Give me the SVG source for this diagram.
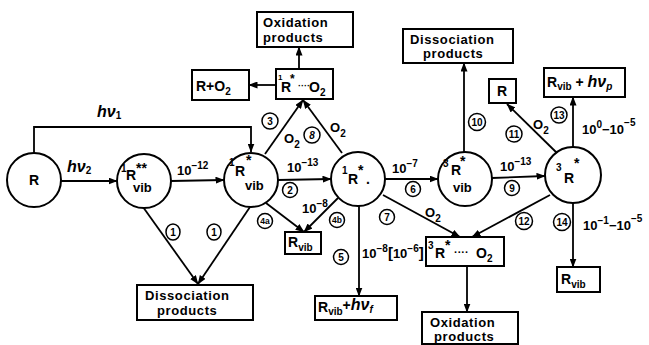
<svg xmlns="http://www.w3.org/2000/svg" width="649" height="345" viewBox="0 0 649 345">
<style>
.n{fill:#fff;stroke:#000;stroke-width:2}
.c line,.c path,.c polyline{stroke:#000;stroke-width:1.8;fill:none}
.lc{fill:#fff;stroke:#000;stroke-width:1.5}
text{font-family:"Liberation Sans",Arial,sans-serif;font-weight:bold;fill:#000}
.t{font-size:14px}
.s{font-size:10px}
.b{font-size:13px;letter-spacing:0.6px}
.l{font-size:13px}
.sm{font-size:10px}
.hv{font-style:italic;font-size:16px}
</style>
<defs>
<marker id="a" markerWidth="9" markerHeight="7" refX="8.5" refY="3.5" orient="auto" markerUnits="userSpaceOnUse"><path d="M0,0 L9,3.5 L0,7 z" fill="#000"/></marker>
</defs>

<g class="c" id="connectors">
<polyline points="34,153 34,127 251,127 251,152" marker-end="url(#a)"/>
<line x1="61" y1="181" x2="117" y2="181" marker-end="url(#a)"/>
<line x1="171" y1="181" x2="224" y2="180" marker-end="url(#a)"/>
<line x1="278" y1="180" x2="331" y2="179" marker-end="url(#a)"/>
<line x1="385" y1="179" x2="438" y2="179" marker-end="url(#a)"/>
<line x1="492" y1="178" x2="545" y2="176" marker-end="url(#a)"/>
<line x1="265" y1="154" x2="303" y2="100" marker-end="url(#a)"/>
<line x1="342" y1="153" x2="303" y2="100" marker-end="url(#a)"/>
<line x1="299" y1="69" x2="299" y2="47" marker-end="url(#a)"/>
<line x1="276" y1="85" x2="249" y2="85" marker-end="url(#a)"/>
<line x1="143" y1="207" x2="198" y2="284" marker-end="url(#a)"/>
<line x1="250" y1="207" x2="198" y2="284" marker-end="url(#a)"/>
<line x1="266" y1="203" x2="304" y2="232" marker-end="url(#a)"/>
<line x1="338" y1="198" x2="304" y2="232" marker-end="url(#a)"/>
<line x1="359" y1="206" x2="359" y2="296" marker-end="url(#a)"/>
<line x1="383" y1="195" x2="460" y2="237" marker-end="url(#a)"/>
<line x1="550" y1="195" x2="472" y2="237" marker-end="url(#a)"/>
<line x1="467" y1="266" x2="467" y2="312" marker-end="url(#a)"/>
<line x1="464" y1="152" x2="464" y2="63" marker-end="url(#a)"/>
<line x1="557" y1="153" x2="507" y2="104" marker-end="url(#a)"/>
<line x1="573" y1="147" x2="573" y2="97" marker-end="url(#a)"/>
<line x1="573" y1="203" x2="573" y2="267" marker-end="url(#a)"/>
</g>

<g id="labels">
<text class="hv" x="97" y="117">hν<tspan class="s" dy="2" font-style="normal">1</tspan></text>
<text class="hv" x="67" y="172">hν<tspan class="s" dy="2" font-style="normal">2</tspan></text>
<text class="l" x="177" y="175">10<tspan class="sm" dy="-6">−12</tspan></text>
<text class="l" x="287" y="172">10<tspan class="sm" dy="-6">−13</tspan></text>
<text class="l" x="392" y="173">10<tspan class="sm" dy="-6">−7</tspan></text>
<text class="l" x="500" y="171">10<tspan class="sm" dy="-6">−13</tspan></text>
<text class="l" x="302" y="213">10<tspan class="sm" dy="-6">−8</tspan></text>
<text class="l" x="362" y="258">10<tspan class="sm" dy="-6">−8</tspan><tspan dy="6" font-size="15">[</tspan>10<tspan class="sm" dy="-6">−6</tspan><tspan dy="6" font-size="15">]</tspan></text>
<text class="l" x="582" y="134">10<tspan class="sm" dy="-6">0</tspan><tspan dy="6">−10</tspan><tspan class="sm" dy="-8">−5</tspan></text>
<text class="l" x="583" y="230">10<tspan class="sm" dy="-6">−1</tspan><tspan dy="6">−10</tspan><tspan class="sm" dy="-8">−5</tspan></text>
<text class="l" x="284" y="143">O<tspan class="sm" dy="5">2</tspan></text>
<text class="l" x="330" y="132">O<tspan class="sm" dy="5">2</tspan></text>
<text class="l" x="425" y="217">O<tspan class="sm" dy="5">2</tspan></text>
<text class="l" x="533" y="129">O<tspan class="sm" dy="5">2</tspan></text>
<g font-size="10">
<circle class="lc" cx="270" cy="121" r="8"/><text x="270" y="125" text-anchor="middle" class="sm">3</text>
<circle class="lc" cx="312" cy="135" r="8"/><text x="312" y="139" text-anchor="middle" class="sm" font-style="italic">8</text>
<circle class="lc" cx="290" cy="190" r="7.5"/><text x="290" y="194" text-anchor="middle" class="sm">2</text>
<circle class="lc" cx="413" cy="189" r="7.5"/><text x="413" y="193" text-anchor="middle" class="sm">6</text>
<circle class="lc" cx="512" cy="188" r="7.5"/><text x="512" y="192" text-anchor="middle" class="sm">9</text>
<ellipse class="lc" cx="173" cy="232" rx="7" ry="8"/><text x="173" y="236" text-anchor="middle" class="sm">1</text>
<ellipse class="lc" cx="214" cy="232" rx="7" ry="8"/><text x="214" y="236" text-anchor="middle" class="sm">1</text>
<circle class="lc" cx="265" cy="221" r="7.5"/><text x="265" y="224" text-anchor="middle" font-size="8.5">4a</text>
<circle class="lc" cx="337" cy="220" r="7.5"/><text x="337" y="223" text-anchor="middle" font-size="8.5">4b</text>
<circle class="lc" cx="341" cy="257" r="7.5"/><text x="341" y="261" text-anchor="middle" class="sm">5</text>
<circle class="lc" cx="387" cy="217" r="7.5"/><text x="387" y="221" text-anchor="middle" class="sm">7</text>
<circle class="lc" cx="524" cy="221" r="8.5"/><text x="524" y="225" text-anchor="middle" class="sm">12</text>
<circle class="lc" cx="477" cy="122" r="8.5"/><text x="477" y="126" text-anchor="middle" class="sm">10</text>
<circle class="lc" cx="514" cy="134" r="8"/><text x="514" y="138" text-anchor="middle" class="sm">11</text>
<circle class="lc" cx="559" cy="115" r="8"/><text x="559" y="119" text-anchor="middle" class="sm">13</text>
<circle class="lc" cx="562" cy="222" r="8.5"/><text x="562" y="226" text-anchor="middle" class="sm">14</text>
</g>
</g>

<g id="node-R"><circle class="n" cx="34" cy="180" r="27"/><text class="t" x="34" y="185" text-anchor="middle">R</text></g>
<g id="node-1Rvibss"><circle class="n" cx="144" cy="181" r="27"/>
<text class="s" x="121" y="172">1<tspan class="t" x="126" y="180">R</tspan><tspan class="t" x="136" y="173">**</tspan><tspan class="l" x="133" y="192">vib</tspan></text></g>
<g id="node-1Rvibs"><circle class="n" cx="251" cy="180" r="27"/>
<text class="s" x="229" y="166">1<tspan class="t" x="235" y="176">R</tspan><tspan class="t" x="246" y="165">*</tspan><tspan class="l" x="245" y="190">vib</tspan></text></g>
<g id="node-1Rs"><circle class="n" cx="358" cy="179" r="27"/>
<text class="s" x="342" y="174">1<tspan class="t" x="348" y="184">R</tspan><tspan class="t" x="358" y="175">*</tspan><tspan class="t" x="366" y="184">.</tspan></text></g>
<g id="node-3Rvib"><circle class="n" cx="465" cy="179" r="27"/>
<text class="s" x="443" y="167">3<tspan class="t" x="451" y="175">R</tspan><tspan class="t" x="460" y="166">*</tspan><tspan class="l" x="453" y="192">vib</tspan></text></g>
<g id="node-3Rs"><circle class="n" cx="573" cy="175" r="28"/>
<text class="s" x="556" y="171">3<tspan class="t" x="564" y="183">R</tspan><tspan class="t" x="574" y="168">*</tspan></text></g>

<g id="box-ox-top"><rect class="n" x="257" y="12" width="96" height="35"/>
<text class="b" x="263" y="27">Oxidation</text><text class="b" x="263" y="42">products</text></g>
<g id="box-RO2"><rect class="n" x="192" y="70" width="57" height="30"/>
<text class="t" x="196" y="91">R+O<tspan class="s" dy="4">2</tspan></text></g>
<g id="box-1RO2"><rect class="n" x="276" y="69" width="57" height="30"/>
<text font-size="8" x="278" y="80">1<tspan class="t" x="281" y="92">R</tspan><tspan font-size="12" x="290" y="83">*</tspan><tspan font-size="9" x="298" y="89">····</tspan><tspan class="t" x="309" y="92">O</tspan><tspan class="s" dy="4">2</tspan></text></g>
<g id="box-dis-top"><rect class="n" x="403" y="29" width="110" height="34"/>
<text class="b" x="410" y="44">Dissociation</text><text class="b" x="423" y="58">products</text></g>
<g id="box-R"><rect class="n" x="489" y="79" width="27" height="24"/><text class="t" x="497" y="96">R</text></g>
<g id="box-Rvib-hvp"><rect class="n" x="544" y="68" width="81" height="29"/>
<text class="t" x="547" y="87">R<tspan class="s" dy="3">vib</tspan><tspan dy="-3"> + </tspan><tspan class="hv">hν</tspan><tspan class="s" dy="3" font-style="italic">p</tspan></text></g>
<g id="box-dis-bot"><rect class="n" x="137" y="285" width="116" height="35"/>
<text class="b" x="145" y="300" letter-spacing="1.4">Dissociation</text><text class="b" x="157" y="315" letter-spacing="1.4">products</text></g>
<g id="box-Rvib-mid"><rect class="n" x="285" y="232" width="36" height="22"/>
<text class="t" x="288" y="247">R<tspan class="s" dy="4">vib</tspan></text></g>
<g id="box-Rvib-hvf"><rect class="n" x="315" y="296" width="82" height="24"/>
<text class="t" x="318" y="312">R<tspan class="s" dy="3">vib</tspan><tspan dy="-5">+</tspan><tspan class="hv">hν</tspan><tspan class="s" dy="3" font-style="italic">f</tspan></text></g>
<g id="box-3RO2"><rect class="n" x="426" y="237" width="78" height="29"/>
<text class="s" x="428" y="249">3<tspan class="t" x="435" y="258">R</tspan><tspan class="t" x="445" y="250">*</tspan><tspan font-size="11" x="454" y="256">····</tspan><tspan class="t" x="476" y="258">O</tspan><tspan class="s" dy="4">2</tspan></text></g>
<g id="box-ox-bot"><rect class="n" x="422" y="312" width="96" height="32"/>
<text class="b" x="430" y="327">Oxidation</text><text class="b" x="434" y="341">products</text></g>
<g id="box-Rvib-right"><rect class="n" x="557" y="267" width="43" height="25"/>
<text class="t" x="561" y="284">R<tspan class="s" dy="4">vib</tspan></text></g>
</svg>
